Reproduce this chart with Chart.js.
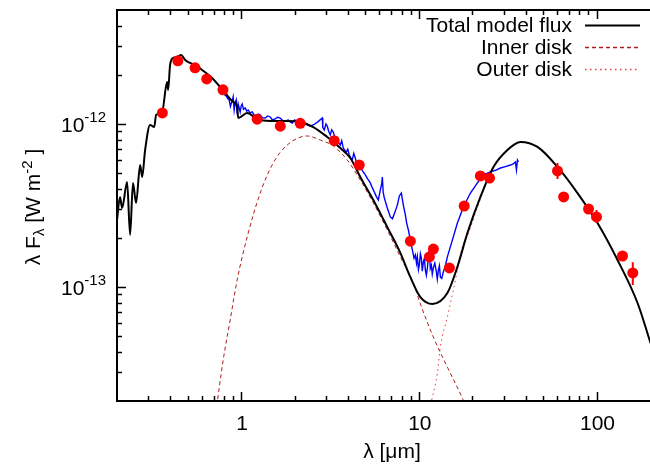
<!DOCTYPE html>
<html>
<head>
<meta charset="utf-8">
<script src="https://cdn.jsdelivr.net/npm/chart.js@4"></script>
<style>
html, body { margin: 0; padding: 0; background: #fff; overflow: hidden; }
canvas { display: block; }
</style>
</head>
<body>
<canvas id="sed" width="650" height="468"></canvas>
<script>
// fluxes are in units of 1e-12 W m^-2, wavelengths in micron
const modelWave = [0.200, 0.208, 0.2136, 0.228, 0.237, 0.246, 0.256, 0.270, 0.277, 0.288, 0.307, 0.324, 0.332, 0.359,
    0.383, 0.388, 0.398, 0.414, 0.436, 0.459, 0.484, 0.516, 0.551, 0.603, 0.686, 0.813, 0.901, 0.949, 0.962, 1.081,
    1.231, 1.457, 1.816, 2.150, 2.545, 3.051, 3.612, 4.113, 4.681, 5.543, 6.645, 7.867, 8.958, 10.20, 11.92, 14.47,
    16.48, 18.76, 22.21, 26.29, 31.52, 37.32, 46.53, 60.30, 78.16, 101.3, 131.3, 170.2, 201.5];
const modelFlux = [0.258, 0.357, 0.305, 0.441, 0.209, 0.435, 0.328, 0.560, 0.473, 0.693, 0.986, 0.958, 1.136, 1.185,
    1.810, 1.617, 2.301, 2.540, 2.577, 2.650, 2.470, 2.367, 2.301, 2.144, 1.916, 1.549, 1.365, 1.271, 1.088, 1.168,
    1.073, 1.043, 1.043, 1.029, 0.958, 0.832, 0.713, 0.618, 0.473, 0.342, 0.233, 0.162, 0.115, 0.0868, 0.0787, 0.0918,
    0.133, 0.214, 0.357, 0.545, 0.693, 0.776, 0.723, 0.545, 0.377, 0.247, 0.1465, 0.0798, 0.0453];

const innerWave = [0.72, 0.792, 0.867, 0.949, 1.081, 1.280, 1.514, 1.816, 2.355, 2.787, 3.298, 3.955, 4.681, 5.543,
    6.645, 7.867, 9.31, 10.20, 12.07, 14.47, 17.58, 18.52];
const innerFlux = [0.0169, 0.0357, 0.0628, 0.1104, 0.2027, 0.3774, 0.576, 0.743, 0.844, 0.797, 0.733, 0.601, 0.453,
    0.328, 0.224, 0.153, 0.106, 0.0787, 0.0493, 0.0323, 0.0208, 0.0181];

const outerWave = [11.6, 11.92, 12.71, 13.21, 14.47, 15.64, 17.58, 18.76, 22.21, 26.29, 31.52, 37.32, 46.53, 60.30,
    78.16, 101.3, 131.3, 170.2, 201.5];
const outerFlux = [0.019, 0.0211, 0.0297, 0.0429, 0.0655, 0.0959, 0.176, 0.2055, 0.347, 0.537, 0.683, 0.776, 0.723,
    0.545, 0.377, 0.247, 0.1465, 0.0798, 0.0453];

const specWave = [0.742, 0.762, 0.782, 0.800, 0.823, 0.840, 0.856, 0.870, 0.878, 0.890, 0.901, 0.913, 0.925, 0.937,
    0.950, 0.962, 0.975, 0.987, 1.000, 1.013, 1.030, 1.053, 1.075, 1.095, 1.120, 1.153, 1.180, 1.215, 1.250, 1.280,
    1.320, 1.365, 1.410, 1.457, 1.500, 1.554, 1.600, 1.659, 1.710, 1.770, 1.840, 1.890, 1.938, 2.000, 2.041, 2.100,
    2.150, 2.220, 2.294, 2.370, 2.447, 2.545, 2.700, 2.860, 2.880, 2.935, 3.000, 3.051, 3.110, 3.173, 3.230, 3.299,
    3.360, 3.429, 3.520, 3.612, 3.680, 3.755, 3.830, 3.904, 3.980, 4.058, 4.140, 4.220, 4.300, 4.388, 4.470, 4.562,
    4.681, 4.800, 4.995, 5.150, 5.332, 5.450, 5.615, 5.760, 5.913, 6.069, 6.180, 6.229, 6.300, 6.393, 6.645, 6.909,
    7.100, 7.278, 7.567, 7.766, 7.970, 8.180, 8.395, 8.550, 8.729, 8.958, 9.193, 9.400, 9.557, 9.700, 9.806, 9.950,
    10.06, 10.20, 10.33, 10.45, 10.60, 10.75, 10.88, 11.02, 11.17, 11.30, 11.46, 11.60, 11.76, 11.90, 12.07, 12.30,
    12.55, 12.70, 12.88, 13.05, 13.22, 13.45, 13.74, 14.10, 14.47, 15.44, 16.48, 17.81, 19.51, 21.36, 23.09, 25.28,
    27.00, 28.79, 30.70, 32.77, 34.00, 34.97, 35.43, 35.89, 36.36];
const specFlux = [1.663, 1.600, 1.572, 1.520, 1.485, 1.430, 1.404, 1.280, 1.327, 1.380, 1.464, 1.219, 1.350, 1.404,
    1.150, 1.327, 1.250, 1.185, 1.290, 1.327, 1.230, 1.254, 1.200, 1.219, 1.170, 1.185, 1.140, 1.104, 1.150, 1.136,
    1.090, 1.088, 1.120, 1.104, 1.060, 1.073, 1.100, 1.088, 1.050, 1.043, 1.058, 1.030, 1.014, 1.060, 1.043, 1.010,
    1.029, 1.040, 1.000, 0.985, 0.972, 0.986, 1.030, 1.088, 0.950, 0.919, 1.000, 0.972, 0.900, 0.856, 0.920, 0.893,
    0.830, 0.798, 0.770, 0.743, 0.790, 0.712, 0.690, 0.673, 0.700, 0.645, 0.620, 0.601, 0.660, 0.619, 0.570, 0.585,
    0.545, 0.520, 0.487, 0.460, 0.435, 0.410, 0.383, 0.360, 0.342, 0.394, 0.430, 0.473, 0.380, 0.352, 0.305, 0.269,
    0.262, 0.281, 0.318, 0.362, 0.377, 0.318, 0.277, 0.245, 0.224, 0.194, 0.169, 0.150, 0.157, 0.140, 0.153, 0.128,
    0.136, 0.160, 0.151, 0.125, 0.142, 0.150, 0.127, 0.118, 0.131, 0.150, 0.169, 0.130, 0.136, 0.120, 0.131, 0.140,
    0.124, 0.112, 0.127, 0.135, 0.115, 0.113, 0.124, 0.135, 0.153, 0.194, 0.247, 0.310, 0.377, 0.435, 0.487, 0.508,
    0.520, 0.537, 0.548, 0.560, 0.570, 0.585, 0.522, 0.601, 0.585];

const photWave = [0.36, 0.44, 0.55, 0.64, 0.79, 1.23, 1.66, 2.15, 3.34, 4.62, 8.96, 11.46, 12.07, 14.86, 18.0, 22.2,
    25.0, 60.3, 65.3, 90.2, 100, 140, 160];
const photFlux = [1.168, 2.44, 2.21, 1.89, 1.62, 1.07, 0.97, 1.01, 0.79, 0.56, 0.191, 0.153, 0.171, 0.131, 0.314,
    0.48, 0.466, 0.515, 0.357, 0.301, 0.269, 0.155, 0.122];

const errWave = [60.3, 100, 160];
const errLow = [0.460, 0.247, 0.103];
const errHigh = [0.576, 0.297, 0.142];

const xTickValues = [1, 10, 100];
const xTickLabels = ['1', '10', '100'];
const yTickValues = [0.1, 1];
const yTickExp = ['-13', '-12'];

const escala = 1e-12;
const fuente = '"Liberation Sans", Arial, sans-serif';

function pares(xs, ys) {
    return xs.map((x, i) => ({ x: x, y: ys[i] * escala }));
}

function barrasError() {
    const out = [];
    errWave.forEach((x, i) => {
        out.push({ x: x, y: errLow[i] * escala });
        out.push({ x: x, y: errHigh[i] * escala });
        out.push({ x: x, y: null });
    });
    return out;
}

function texto(ctx, partes, x, y, align) {
    // partes: [texto, tamaño, desplazamiento vertical]
    let ancho = 0;
    partes.forEach(p => { ctx.font = p[1] + 'px ' + fuente; ancho += ctx.measureText(p[0]).width; });
    let cx = align === 'right' ? x - ancho : (align === 'center' ? x - ancho / 2 : x);
    partes.forEach(p => {
        ctx.font = p[1] + 'px ' + fuente;
        ctx.fillText(p[0], cx, y + p[2]);
        cx += ctx.measureText(p[0]).width;
    });
}

const marcoEjes = {
    id: 'marcoEjes',
    afterDraw(chart) {
        const ctx = chart.ctx;
        const a = chart.chartArea;
        const sx = chart.scales.x;
        const sy = chart.scales.y;
        ctx.save();
        ctx.strokeStyle = '#000';
        ctx.lineWidth = 2;
        ctx.beginPath();
        ctx.moveTo(a.left, a.top); ctx.lineTo(a.right + 2, a.top);
        ctx.moveTo(a.left, a.top - 1); ctx.lineTo(a.left, a.bottom + 1);
        ctx.moveTo(a.left, a.bottom); ctx.lineTo(a.right + 2, a.bottom);
        ctx.stroke();

        ctx.lineWidth = 1.5;
        ctx.beginPath();
        for (let d = -1; d <= 2; d++) {
            for (let m = 1; m <= 9; m++) {
                const v = m * Math.pow(10, d);
                if (v < sx.min * 1.001 || v > sx.max * 0.999) continue;
                const px = Math.round(sx.getPixelForValue(v)) + 0.5;
                const len = m === 1 ? 9 : 5;
                ctx.moveTo(px, a.bottom); ctx.lineTo(px, a.bottom - len);
                ctx.moveTo(px, a.top); ctx.lineTo(px, a.top + len);
            }
        }
        for (let d = -14; d <= -12; d++) {
            for (let m = 1; m <= 9; m++) {
                const v = m * Math.pow(10, d);
                if (v < sy.min * 1.001 || v > sy.max * 0.999) continue;
                const py = Math.round(sy.getPixelForValue(v)) + 0.5;
                const len = m === 1 ? 9 : 5;
                ctx.moveTo(a.left, py); ctx.lineTo(a.left + len, py);
            }
        }
        ctx.stroke();

        ctx.fillStyle = '#000';
        ctx.textBaseline = 'alphabetic';
        xTickValues.forEach((v, i) => {
            texto(ctx, [[xTickLabels[i], 21, 0]], sx.getPixelForValue(v) + 1, 430, 'center');
        });
        yTickValues.forEach((v, i) => {
            const py = sy.getPixelForValue(v * escala);
            texto(ctx, [['10', 21, 8], [yTickExp[i], 15, -2]], 106, py, 'right');
        });

        texto(ctx, [['λ [μm]', 21, 0]], 392, 458, 'center');

        ctx.save();
        ctx.translate(40, 207);
        ctx.rotate(-Math.PI / 2);
        texto(ctx, [['λ F', 21, 0], ['λ', 15, 4], [' [W m', 21, 0], ['-2', 15, -8], [' ]', 21, 0]], 0, 0, 'center');
        ctx.restore();

        // legend, gnuplot style: text then sample line
        const filas = [2, 4, 5];
        filas.forEach((idx, k) => {
            const ds = chart.data.datasets[idx];
            const y = 25 + k * 22;
            texto(ctx, [[ds.label, 21, 7]], 572, y, 'right');
            ctx.save();
            ctx.strokeStyle = ds.borderColor;
            ctx.lineWidth = ds.borderWidth + (idx === 2 ? 0 : 0.3);
            ctx.setLineDash(ds.borderDash || []);
            ctx.beginPath();
            ctx.moveTo(585, y + 0.5); ctx.lineTo(640, y + 0.5);
            ctx.stroke();
            ctx.restore();
        });
        ctx.restore();
    }
};

const grafico = new Chart(document.getElementById('sed'), {
    type: 'line',
    data: {
        datasets: [
            {
                label: 'Photometry',
                type: 'scatter',
                data: pares(photWave, photFlux),
                pointRadius: 5.5,
                pointBackgroundColor: '#ff0000',
                pointBorderWidth: 0,
                showLine: false
            },
            {
                label: 'Errors',
                data: barrasError(),
                borderColor: '#ff0000',
                borderWidth: 2,
                pointRadius: 0,
                spanGaps: false
            },
            {
                label: 'Total model flux',
                data: pares(modelWave, modelFlux),
                borderColor: '#000000',
                borderWidth: 2,
                pointRadius: 0,
                cubicInterpolationMode: 'monotone'
            },
            {
                label: 'Spectrum',
                data: pares(specWave, specFlux),
                borderColor: '#0000ff',
                borderWidth: 1.4,
                pointRadius: 0,
                tension: 0
            },
            {
                label: 'Inner disk',
                data: pares(innerWave, innerFlux),
                borderColor: 'rgb(175,30,30)',
                borderWidth: 1,
                borderDash: [4, 3],
                pointRadius: 0,
                cubicInterpolationMode: 'monotone'
            },
            {
                label: 'Outer disk',
                data: pares(outerWave, outerFlux),
                borderColor: 'rgb(235,60,60)',
                borderWidth: 1,
                borderDash: [1.5, 3.5],
                pointRadius: 0,
                cubicInterpolationMode: 'monotone'
            }
        ]
    },
    options: {
        responsive: false,
        animation: false,
        layout: { autoPadding: false, padding: { left: 117, top: 10, right: 0, bottom: 67 } },
        plugins: { legend: { display: false }, tooltip: { enabled: false } },
        scales: {
            x: { type: 'logarithmic', min: 0.2, max: 200, display: false },
            y: { type: 'logarithmic', min: 2e-14, max: 5e-12, display: false }
        }
    },
    plugins: [marcoEjes]
});
</script>
</body>
</html>
